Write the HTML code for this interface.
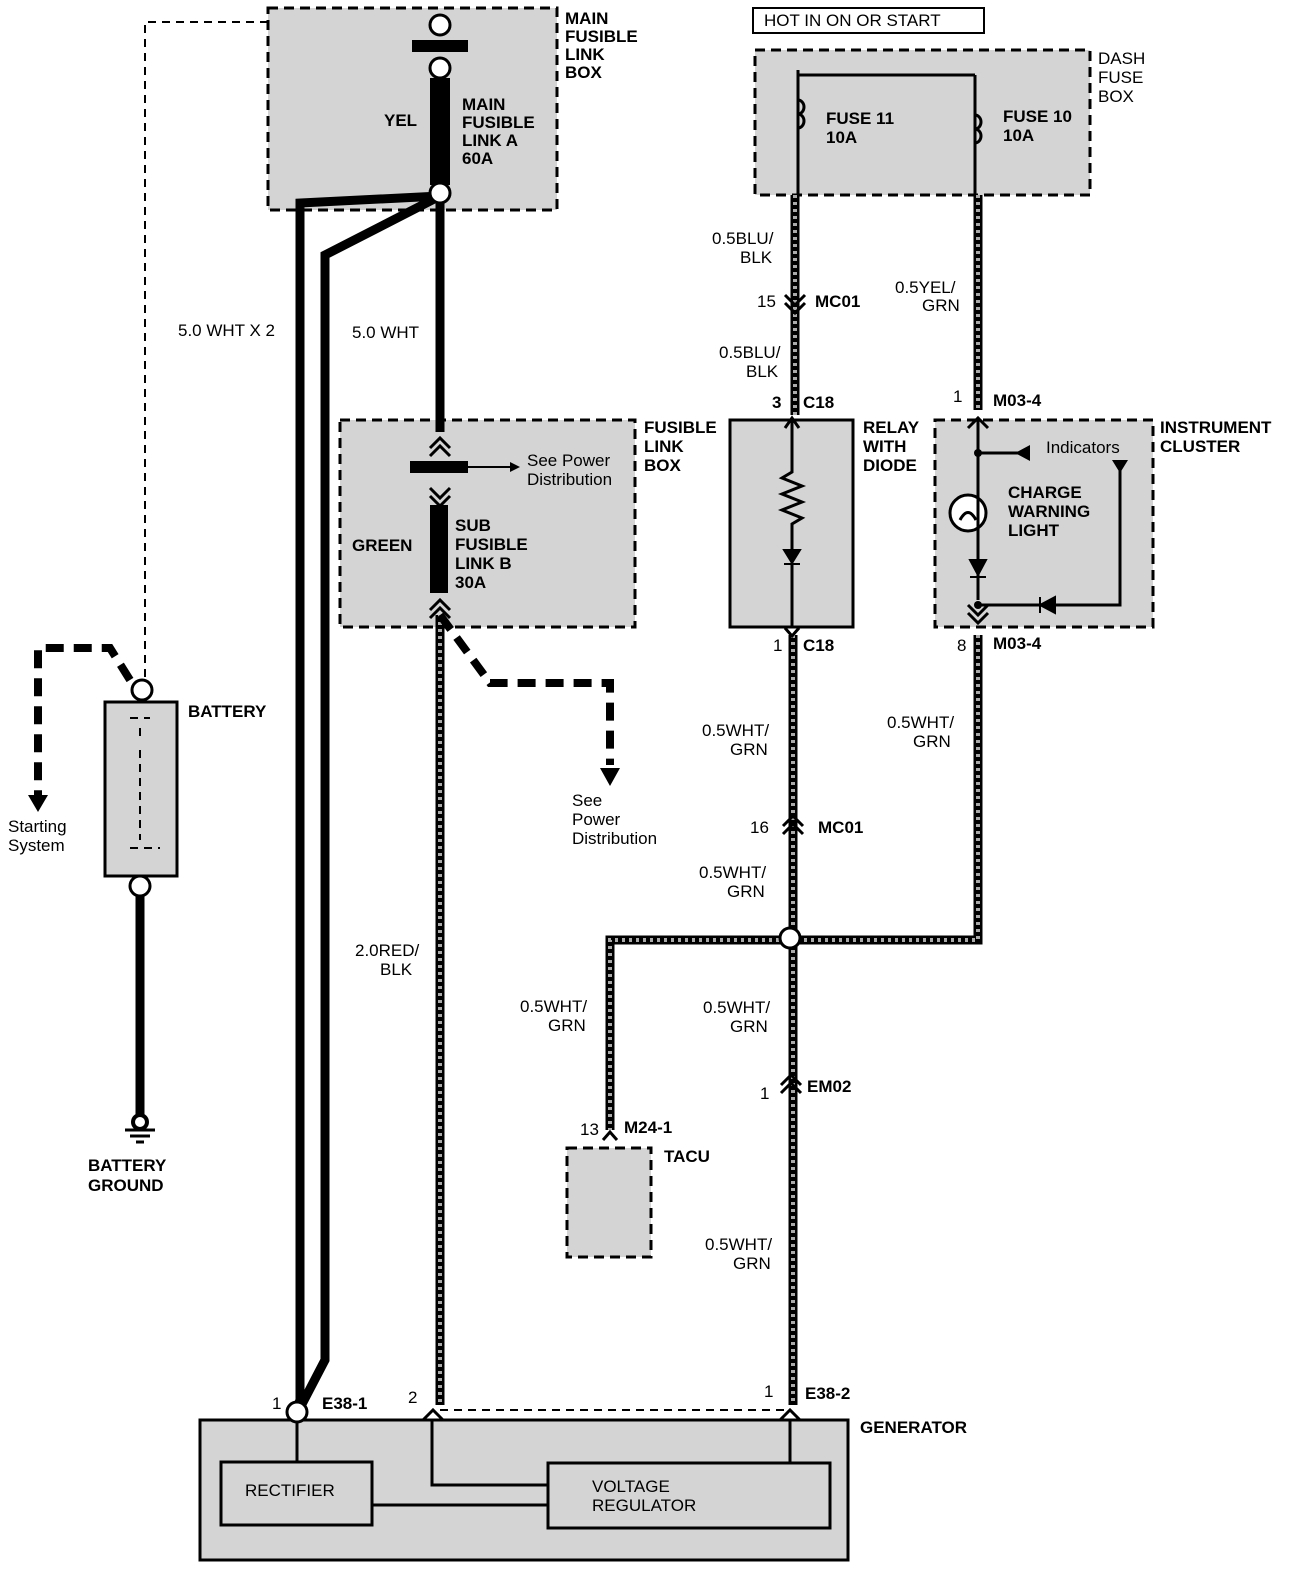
<!DOCTYPE html>
<html><head><meta charset="utf-8"><style>
body{margin:0;background:#fff}
svg{display:block}
text{font-family:"Liberation Sans",sans-serif;font-weight:bold;font-size:17px;fill:#000}
.n{font-weight:normal}
</style></head><body>
<svg width="1312" height="1594" viewBox="0 0 1312 1594" xmlns="http://www.w3.org/2000/svg">
<defs>
<marker id="ah" markerWidth="10" markerHeight="10" refX="5" refY="5" orient="auto" markerUnits="userSpaceOnUse"><path d="M0,0 L10,5 L0,10 Z" fill="#000"/></marker>
</defs>
<g fill="#d4d4d4" stroke="#000" stroke-width="3" stroke-dasharray="10,6">
<rect x="268" y="8" width="289" height="202"/>
<rect x="340" y="420" width="295" height="207"/>
<rect x="755" y="50" width="335" height="145"/>
<rect x="935" y="420" width="218" height="207"/>
<rect x="567" y="1148" width="84" height="109"/>
</g>
<rect x="200" y="1420" width="648" height="140" fill="#d4d4d4" stroke="#000" stroke-width="3"/>
<rect x="730" y="420" width="123" height="207" fill="#d4d4d4" stroke="#000" stroke-width="3"/>
<rect x="105" y="702" width="72" height="174" fill="#d4d4d4" stroke="#000" stroke-width="3"/>
<rect x="221" y="1462" width="151" height="63" fill="#d4d4d4" stroke="#000" stroke-width="3"/>
<rect x="548" y="1463" width="282" height="65" fill="#d4d4d4" stroke="#000" stroke-width="3"/>
<rect x="753" y="8" width="231" height="25" fill="#fff" stroke="#000" stroke-width="2"/>
<!-- thin dashed battery link -->
<path d="M268,22 H145 V678" fill="none" stroke="#000" stroke-width="2" stroke-dasharray="8,6"/>
<path d="M440,1410 H790" fill="none" stroke="#000" stroke-width="2" stroke-dasharray="8,6"/>
<!-- thick black wires -->
<g fill="none" stroke="#000" stroke-width="9">
<path d="M440,196 L300,203 V1400 L297,1408"/>
<path d="M440,196 L325,255 V1360 L300,1408"/>
<path d="M440,196 V432"/>
<path d="M140,895 V1115"/>
</g>
<rect x="430" y="78" width="20" height="107" fill="#000"/>
<rect x="412" y="40" width="56" height="12" fill="#000"/>
<rect x="430" y="505" width="18" height="88" fill="#000"/>
<rect x="410" y="461" width="58" height="12" fill="#000"/>
<line x1="468" y1="467" x2="515" y2="467" stroke="#000" stroke-width="2" marker-end="url(#ah)"/>
<!-- hatched wires -->
<g fill="none" stroke-linejoin="miter">
<g stroke="#000" stroke-width="9">
<path d="M440,615 V1405"/>
<path d="M795,195 V415"/>
<path d="M978,195 V410"/>
<path d="M793,635 V1405"/>
<path d="M978,635 V940 H610 V1130"/>
</g>
<g stroke="#aaa" stroke-width="4" stroke-dasharray="3,4">
<path d="M440,615 V1405"/>
<path d="M795,195 V415"/>
<path d="M978,195 V410"/>
<path d="M793,635 V1405"/>
<path d="M978,635 V940 H610 V1130"/>
</g>
</g>
<!-- thick dashed -->
<g fill="none" stroke="#000" stroke-width="8" stroke-dasharray="18,10">
<path d="M440,615 L490,683 H610 V765"/>
<path d="M130,680 L110,648 H38 V795"/>
</g>
<path d="M600,768 L620,768 L610,786 Z M28,795 L48,795 L38,812 Z"/>
<!-- circles -->
<g fill="#fff" stroke="#000" stroke-width="3">
<circle cx="440" cy="25" r="10"/><circle cx="440" cy="68" r="10"/><circle cx="440" cy="193" r="10"/>
<circle cx="142" cy="690" r="10"/><circle cx="140" cy="886" r="10"/>
<circle cx="297" cy="1412" r="10"/><circle cx="790" cy="938" r="10"/>
<circle cx="968" cy="513" r="18"/>
</g>
<!-- chevrons -->
<g fill="none" stroke="#000" stroke-width="3">
<path d="M430,448 L440,438 L450,448 M430,456 L440,446 L450,456"/>
<path d="M430,488 L440,498 L450,488 M430,496 L440,506 L450,496"/>
<path d="M430,610 L440,600 L450,610 M430,618 L440,608 L450,618"/>
<path d="M785,295 L795,305 L805,295 M785,303 L795,313 L805,303"/>
<path d="M783,826 L793,816 L803,826 M783,834 L793,824 L803,834"/>
<path d="M781,1085 L791,1075 L801,1085 M781,1093 L791,1083 L801,1093"/>
<path d="M423,1420 L433,1410 L443,1420"/>
<path d="M780,1420 L790,1410 L800,1420"/>
<path d="M968,428 L978,418 L988,428"/>
<path d="M968,605 L978,615 L988,605 M968,613 L978,623 L988,613"/>
<path d="M785,628 L792,636 L799,628"/>
<path d="M785,428 L792,418 L799,428"/>
<path d="M603,1140 L610,1132 L617,1140"/>
<!-- generator internals -->
<path d="M297,1422 V1462 M372,1505 H548 M432,1420 V1485 H548 M790,1420 V1463"/>
<!-- fuse box -->
<path d="M798,75 H975 M798,70 V195 M975,75 V195"/>
<path d="M798,100 a6,7 0 0 1 0,14 a6,7 0 0 1 0,14"/>
<path d="M975,115 a6,7 0 0 1 0,14 a6,7 0 0 1 0,14"/>
<!-- relay -->
<path d="M792,420 V472 L782,478 L802,486 L782,494 L802,502 L782,510 L802,518 L792,524 V627"/>
<!-- cluster -->
<path d="M978,420 V600 M978,453 H1020 M1120,465 V605 H1055 M978,605 H1040"/>
<path d="M960,520 q8,-15 16,0" />
<!-- battery -->
<path d="M130,718 H150 M140,728 V740 M130,848 H160 M140,750 V840" stroke-dasharray="8,6" stroke-width="2"/>
<path d="M125,1130 H155 M130,1136 H150 M136,1142 H144"/>
</g>
<circle cx="140" cy="1122" r="7" fill="#fff" stroke="#000" stroke-width="4"/>
<path d="M784,550 L800,550 L792,563 Z M784,564 H800" fill="#000" stroke="#000" stroke-width="2"/>
<path d="M970,560 L986,560 L978,575 Z M970,577 H986" fill="#000" stroke="#000" stroke-width="2"/>
<path d="M1040,605 L1055,597 L1055,613 Z M1040,597 V613" fill="#000" stroke="#000" stroke-width="2"/>
<path d="M1015,453 L1030,445 L1030,461 Z M1112,460 L1128,460 L1120,473 Z" fill="#000"/>
<circle cx="978" cy="453" r="4"/><circle cx="978" cy="605" r="4"/>
<!-- labels -->
<text x="565" y="24">MAIN</text><text x="565" y="42">FUSIBLE</text><text x="565" y="60">LINK</text><text x="565" y="78">BOX</text>
<text x="384" y="126">YEL</text>
<text x="462" y="110">MAIN</text><text x="462" y="128">FUSIBLE</text><text x="462" y="146">LINK A</text><text x="462" y="164">60A</text>
<text x="178" y="336" class="n">5.0 WHT X 2</text>
<text x="352" y="338" class="n">5.0 WHT</text>
<text x="644" y="433">FUSIBLE</text><text x="644" y="452">LINK</text><text x="644" y="471">BOX</text>
<text x="527" y="466" class="n">See Power</text><text x="527" y="485" class="n">Distribution</text>
<text x="352" y="551">GREEN</text>
<text x="455" y="531">SUB</text><text x="455" y="550">FUSIBLE</text><text x="455" y="569">LINK B</text><text x="455" y="588">30A</text>
<text x="188" y="717">BATTERY</text>
<text x="8" y="832" class="n">Starting</text><text x="8" y="851" class="n">System</text>
<text x="88" y="1171">BATTERY</text><text x="88" y="1191">GROUND</text>
<text x="572" y="806" class="n">See</text><text x="572" y="825" class="n">Power</text><text x="572" y="844" class="n">Distribution</text>
<text x="355" y="956" class="n">2.0RED/</text><text x="380" y="975" class="n">BLK</text>
<text x="272" y="1409" class="n">1</text><text x="322" y="1409">E38-1</text>
<text x="408" y="1403" class="n">2</text>
<text x="764" y="1397" class="n">1</text><text x="805" y="1399">E38-2</text>
<text x="860" y="1433">GENERATOR</text>
<text x="245" y="1496" class="n">RECTIFIER</text>
<text x="592" y="1492" class="n">VOLTAGE</text><text x="592" y="1511" class="n">REGULATOR</text>
<text x="764" y="26" class="n">HOT IN ON OR START</text>
<text x="1098" y="64" class="n">DASH</text><text x="1098" y="83" class="n">FUSE</text><text x="1098" y="102" class="n">BOX</text>
<text x="826" y="124">FUSE 11</text><text x="826" y="143">10A</text>
<text x="1003" y="122">FUSE 10</text><text x="1003" y="141">10A</text>
<text x="712" y="244" class="n">0.5BLU/</text><text x="740" y="263" class="n">BLK</text>
<text x="757" y="307" class="n">15</text><text x="815" y="307">MC01</text>
<text x="719" y="358" class="n">0.5BLU/</text><text x="746" y="377" class="n">BLK</text>
<text x="772" y="408">3</text><text x="803" y="408">C18</text>
<text x="895" y="293" class="n">0.5YEL/</text><text x="922" y="311" class="n">GRN</text>
<text x="953" y="402" class="n">1</text><text x="993" y="406">M03-4</text>
<text x="863" y="433">RELAY</text><text x="863" y="452">WITH</text><text x="863" y="471">DIODE</text>
<text x="1160" y="433">INSTRUMENT</text><text x="1160" y="452">CLUSTER</text>
<text x="1046" y="453" class="n">Indicators</text>
<text x="1008" y="498">CHARGE</text><text x="1008" y="517">WARNING</text><text x="1008" y="536">LIGHT</text>
<text x="773" y="651" class="n">1</text><text x="803" y="651">C18</text>
<text x="957" y="651" class="n">8</text><text x="993" y="649">M03-4</text>
<text x="702" y="736" class="n">0.5WHT/</text><text x="730" y="755" class="n">GRN</text>
<text x="887" y="728" class="n">0.5WHT/</text><text x="913" y="747" class="n">GRN</text>
<text x="750" y="833" class="n">16</text><text x="818" y="833">MC01</text>
<text x="699" y="878" class="n">0.5WHT/</text><text x="727" y="897" class="n">GRN</text>
<text x="520" y="1012" class="n">0.5WHT/</text><text x="548" y="1031" class="n">GRN</text>
<text x="703" y="1013" class="n">0.5WHT/</text><text x="730" y="1032" class="n">GRN</text>
<text x="760" y="1099" class="n">1</text><text x="807" y="1092">EM02</text>
<text x="580" y="1135" class="n">13</text><text x="624" y="1133">M24-1</text>
<text x="664" y="1162">TACU</text>
<text x="705" y="1250" class="n">0.5WHT/</text><text x="733" y="1269" class="n">GRN</text>
</svg>
</body></html>
